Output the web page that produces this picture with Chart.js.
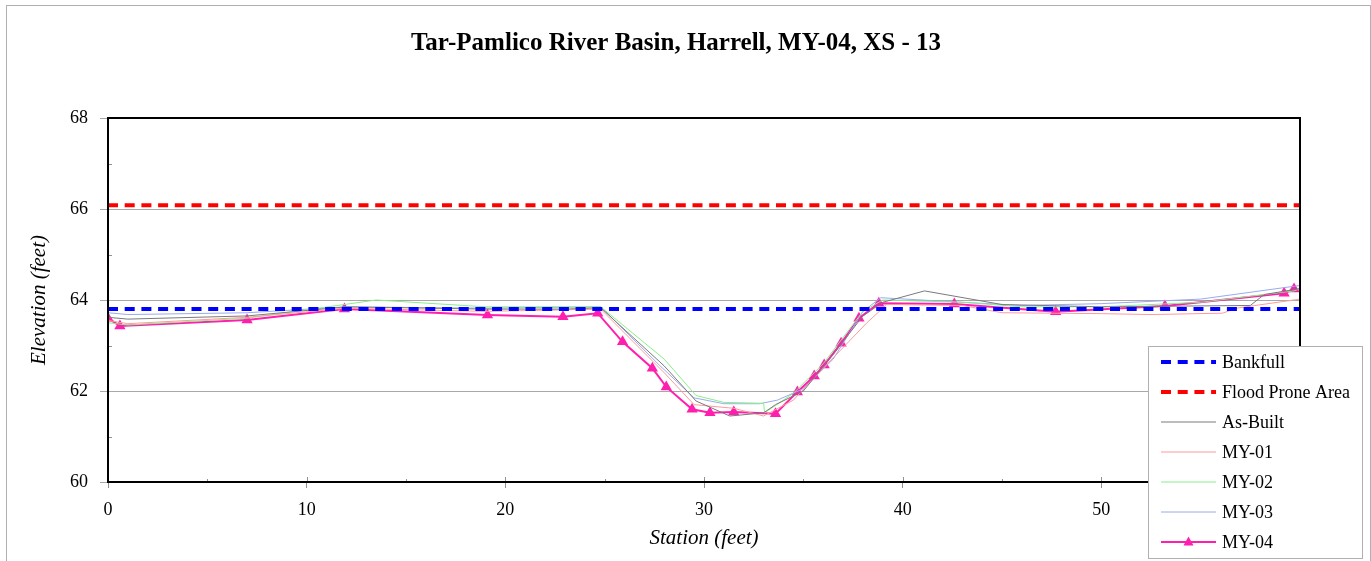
<!doctype html>
<html lang="en-us">
<head>
  <meta charset="utf-8">
  <title>Tar-Pamlico River Basin, Harrell, MY-04, XS - 13</title>
  <script src="https://cdn.jsdelivr.net/npm/chart.js@4.4.1/dist/chart.umd.min.js"></script>
  <style>
    html, body { margin: 0; padding: 0; background: #fff; }
    #wrap { width: 1371px; height: 561px; position: relative; }
  </style>
</head>
<body>
  <div id="wrap"><canvas id="chart" width="1371" height="561"></canvas></div>
  <script>
    // reference lines
    let bankfull = 63.8
    let floodProne = 66.08

    // survey series: station (feet) / elevation (feet)
    let asBuiltX = [0, 1, 7, 12, 19, 23, 24.8, 28, 29.6, 31.3, 33.0, 33.6, 35, 36.5, 38, 39, 41.1, 45, 50, 57.5, 58.2, 60]
    let asBuiltY = [63.62, 63.58, 63.65, 63.85, 63.8, 63.8, 63.83, 62.55, 61.78, 61.45, 61.52, 61.7, 62.0, 62.8, 63.65, 63.95, 64.2, 63.9, 63.85, 63.88, 64.12, 64.25]

    let my01X = [0, 1, 7, 12, 19, 24.8, 28, 29.5, 31.5, 33.0, 34.5, 36, 38.2, 39.2, 43, 45, 50, 52.5, 56.1, 56.8, 60]
    let my01Y = [63.55, 63.48, 63.62, 63.82, 63.75, 63.8, 62.4, 61.7, 61.62, 61.45, 61.8, 62.5, 63.5, 63.9, 63.88, 63.72, 63.7, 63.68, 63.71, 63.82, 64.02]

    let my02X = [0, 1, 7, 13.5, 19, 24.8, 28, 29.6, 31, 33.0, 33.05, 34.5, 36, 38, 39, 43, 46, 50, 55, 59.7, 60]
    let my02Y = [63.5, 63.45, 63.6, 64.0, 63.85, 63.85, 62.7, 61.9, 61.75, 61.73, 61.52, 61.95, 62.6, 63.75, 64.0, 63.95, 63.85, 63.85, 63.95, 64.2, 64.25]

    let my03X = [0, 1, 7, 12, 19, 24.8, 27.75, 29.5, 31, 32.8, 33.7, 35, 36.5, 38, 38.9, 43, 46, 50, 55, 60]
    let my03Y = [63.72, 63.68, 63.72, 63.85, 63.82, 63.85, 62.57, 61.85, 61.72, 61.72, 61.8, 62.05, 62.7, 63.75, 64.05, 63.95, 63.88, 63.92, 64.02, 64.32]

    let my04X = [0, 0.6, 7.0, 11.9, 19.1, 22.9, 24.65, 25.9, 27.4, 28.1, 29.4, 30.3, 31.5, 33.6, 34.7, 35.55, 36.05, 36.9, 37.8, 38.8, 42.6, 47.7, 53.2, 59.2, 59.7]
    let my04Y = [63.6, 63.43, 63.56, 63.80, 63.67, 63.63, 63.71, 63.08, 62.5, 62.09, 61.6, 61.52, 61.54, 61.5, 61.98, 62.33, 62.57, 63.05, 63.6, 63.93, 63.91, 63.74, 63.87, 64.15, 64.24]

    let xMin = 0, xMax = 60, yMin = 60, yMax = 68

    function pts(xs, ys) {
      return xs.map((x, i) => ({ x: x, y: ys[i] }))
    }

    const serif = "'Liberation Serif', 'Times New Roman', serif"

    // outer frame, plot border, minor ticks and the boxed legend
    const decor = {
      id: 'decor',
      beforeDraw(chart) {
        const c = chart.ctx
        c.save()
        c.strokeStyle = '#b0b0b0'
        c.lineWidth = 1
        c.strokeRect(6.5, 5.5, 1364, 600)
        c.restore()
      },
      afterDraw(chart) {
        const c = chart.ctx
        const a = chart.chartArea
        const xs = chart.scales.x, ys = chart.scales.y
        c.save()
        // small inner ticks
        c.strokeStyle = '#909090'
        c.lineWidth = 1
        c.beginPath()
        for (let v = xMin; v <= xMax; v += 5) {
          const px = Math.round(xs.getPixelForValue(v)) + 0.5
          const len = v % 10 === 0 ? 5 : 3
          c.moveTo(px, a.bottom); c.lineTo(px, a.bottom - len)
        }
        for (let v = yMin + 1; v < yMax; v += 2) {
          const py = Math.round(ys.getPixelForValue(v)) + 0.5
          c.moveTo(a.left, py); c.lineTo(a.left + 4, py)
        }
        c.stroke()
        // plot border
        c.strokeStyle = '#000'
        c.lineWidth = 2
        c.strokeRect(a.left, a.top, a.right - a.left, a.bottom - a.top)

        // legend
        const lx = 1148.5, ly = 346.5, lw = 214, lh = 212
        c.fillStyle = '#fff'
        c.fillRect(lx, ly, lw, lh)
        c.strokeStyle = '#b0b0b0'
        c.lineWidth = 1
        c.strokeRect(lx, ly, lw, lh)
        c.font = '18px ' + serif
        c.textBaseline = 'middle'
        chart.data.datasets.forEach((ds, i) => {
          const yy = 362 + i * 30
          c.save()
          c.strokeStyle = ds.borderColor
          c.lineWidth = ds.borderWidth
          c.setLineDash(ds.borderDash || [])
          c.beginPath()
          c.moveTo(1161, yy); c.lineTo(1216, yy)
          c.stroke()
          c.restore()
          if (ds.pointRadius > 0) {
            c.fillStyle = ds.pointBackgroundColor
            c.beginPath()
            c.moveTo(1188.5, yy - 5.5); c.lineTo(1193.5, yy + 3.5); c.lineTo(1183.5, yy + 3.5)
            c.closePath(); c.fill()
          }
          c.fillStyle = '#000'
          c.fillText(ds.label, 1222, yy + 1)
        })
        c.restore()
      }
    }

    let ctx = document.getElementById('chart')
    let chart = new Chart(ctx, {
      type: 'line',
      data: {
        datasets: [
          { label: 'Bankfull', data: pts([xMin, xMax], [bankfull, bankfull]), borderColor: '#0000ff', borderWidth: 4, borderDash: [10, 6.7], pointRadius: 0 },
          { label: 'Flood Prone Area', data: pts([xMin, xMax], [floodProne, floodProne]), borderColor: '#ff0000', borderWidth: 4, borderDash: [10, 6.7], pointRadius: 0 },
          { label: 'As-Built', data: pts(asBuiltX, asBuiltY), borderColor: '#7a7a7a', borderWidth: 1, pointRadius: 0 },
          { label: 'MY-01', data: pts(my01X, my01Y), borderColor: '#ff9a9a', borderWidth: 1, pointRadius: 0 },
          { label: 'MY-02', data: pts(my02X, my02Y), borderColor: '#88ee88', borderWidth: 1, pointRadius: 0 },
          { label: 'MY-03', data: pts(my03X, my03Y), borderColor: '#99aaee', borderWidth: 1, pointRadius: 0 },
          { label: 'MY-04', data: pts(my04X, my04Y), borderColor: '#ff1fae', borderWidth: 2, pointRadius: 6.5, pointStyle: 'triangle', pointBackgroundColor: '#ff1fae', pointBorderColor: '#ff1fae', pointBorderWidth: 0 }
        ]
      },
      options: {
        responsive: false,
        animation: false,
        layout: { padding: { left: 0, right: 19, top: 0, bottom: 0 } },
        plugins: {
          legend: { display: false },
          tooltip: { enabled: false },
          title: {
            display: true,
            text: 'Tar-Pamlico River Basin, Harrell, MY-04, XS - 13',
            color: '#000',
            font: { family: serif, size: 25, weight: 'bold', lineHeight: 1.2 },
            padding: { top: 29, bottom: 59 }
          }
        },
        scales: {
          x: {
            type: 'linear', min: xMin, max: xMax,
            afterFit: s => { s.height = 79 },
            border: { display: false },
            grid: { drawOnChartArea: false, drawTicks: true, tickLength: 6, color: '#909090' },
            ticks: { stepSize: 10, color: '#000', padding: 11, maxRotation: 0, font: { family: serif, size: 18 } },
            title: { display: true, text: 'Station (feet)', color: '#000', padding: { top: 0, bottom: 10 }, font: { family: serif, size: 21, style: 'italic' } }
          },
          y: {
            min: yMin, max: yMax,
            afterFit: s => { s.width = 108 },
            border: { display: false },
            grid: { color: '#a8a8a8', tickLength: 8 },
            ticks: { stepSize: 2, color: '#000', padding: 12, font: { family: serif, size: 18 } },
            title: { display: true, text: 'Elevation (feet)', color: '#000', padding: { top: 27, bottom: 0 }, font: { family: serif, size: 21, style: 'italic' } }
          },
          // empty right gutter so the title centres like the original
          gutter: {
            position: 'right', min: yMin, max: yMax,
            afterFit: s => { s.width = 52 },
            border: { display: false },
            grid: { display: false },
            ticks: { display: false }
          }
        }
      },
      plugins: [decor]
    })
  </script>
</body>
</html>
